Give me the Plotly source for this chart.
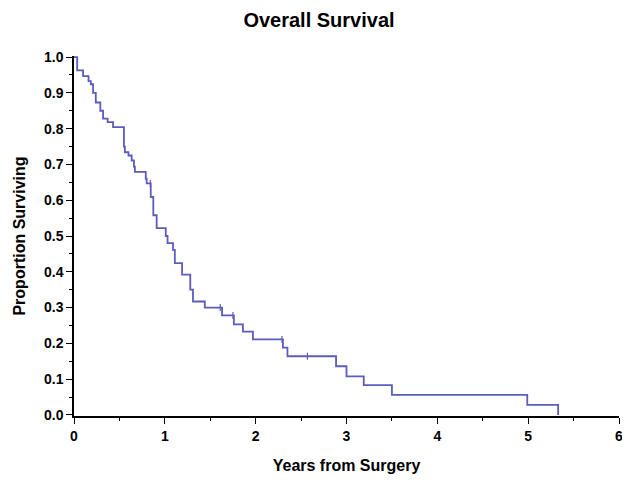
import plotly.graph_objects as go

# Kaplan-Meier step curve (time in years, survival proportion after the drop)
times = [0.00, 0.035, 0.10, 0.16, 0.185, 0.21, 0.24, 0.29, 0.32, 0.37, 0.43,
         0.55, 0.56, 0.60, 0.635, 0.66, 0.67, 0.79, 0.80, 0.845, 0.873, 0.91,
         1.01, 1.03, 1.09, 1.11, 1.19, 1.28, 1.31, 1.44, 1.63, 1.76, 1.86,
         1.97, 2.30, 2.35, 2.885, 3.00, 3.19, 3.50, 4.99, 5.33]
survival = [1.000, 0.963, 0.947, 0.933, 0.924, 0.900, 0.873, 0.850, 0.828, 0.818, 0.804,
            0.750, 0.734, 0.725, 0.711, 0.694, 0.679, 0.660, 0.647, 0.609, 0.558, 0.522,
            0.500, 0.480, 0.461, 0.424, 0.392, 0.350, 0.317, 0.300, 0.278, 0.253, 0.233,
            0.211, 0.188, 0.164, 0.136, 0.108, 0.083, 0.056, 0.028, 0.000]

# censored observations
censor_t = [0.84, 1.61, 1.75, 2.29, 2.57]
censor_s = [0.647, 0.300, 0.278, 0.211, 0.164]

x_ticks = [0, 1, 2, 3, 4, 5, 6]
y_ticks = [0.0, 0.1, 0.2, 0.3, 0.4, 0.5, 0.6, 0.7, 0.8, 0.9, 1.0]

line_color = "#5c5cbc"
font_family = "Liberation Sans, Arial, Helvetica, sans-serif"

fig = go.Figure()
fig.add_trace(go.Scatter(x=times, y=survival, mode="lines", line_shape="hv",
                         line=dict(color=line_color, width=1.8), showlegend=False,
                         hoverinfo="skip"))
fig.add_trace(go.Scatter(x=censor_t, y=censor_s, mode="markers",
                         marker=dict(symbol="line-ns", size=5,
                                     line=dict(color=line_color, width=1.2)),
                         showlegend=False, hoverinfo="skip"))

# page body has an 8px margin, so the figure is 8px smaller and margins shifted
fig.update_layout(
    width=622, height=480,
    margin=dict(l=66, r=11, t=48, b=72, autoexpand=False),
    paper_bgcolor="white", plot_bgcolor="white",
    font=dict(family=font_family, color="black", size=14),
    title=dict(text="<b>Overall Survival</b>", x=0.5, xanchor="center",
               y=1 - 12 / 480, yanchor="middle", font=dict(size=20, family=font_family)),
)
fig.update_xaxes(
    range=[0, 6], tickvals=x_ticks, ticktext=[f"<b>{v}</b>" for v in x_ticks],
    showgrid=False, zeroline=False, showline=True, linecolor="black", linewidth=1.5,
    ticks="outside", ticklen=6, tickwidth=1.3, tickcolor="black",
    tickfont=dict(size=14), automargin=False,
    minor=dict(dtick=0.5, ticks="outside", ticklen=3, tickwidth=1.2, tickcolor="black"),
    title=dict(text="<b>Years from Surgery</b>", font=dict(size=16), standoff=17),
)
fig.update_yaxes(
    range=[-0.003, 1.003], tickvals=y_ticks, ticktext=[f"<b>{v:.1f}</b>" for v in y_ticks],
    showgrid=False, zeroline=False, showline=True, linecolor="black", linewidth=1.5,
    ticks="outside", ticklen=6, tickwidth=1.3, tickcolor="black",
    tickfont=dict(size=14), automargin=False,
    minor=dict(dtick=0.05, ticks="outside", ticklen=3, tickwidth=1.2, tickcolor="black"),
    title=dict(text="<b>Proportion Surviving</b>", font=dict(size=16), standoff=14),
)

fig.write_html("out.html")
